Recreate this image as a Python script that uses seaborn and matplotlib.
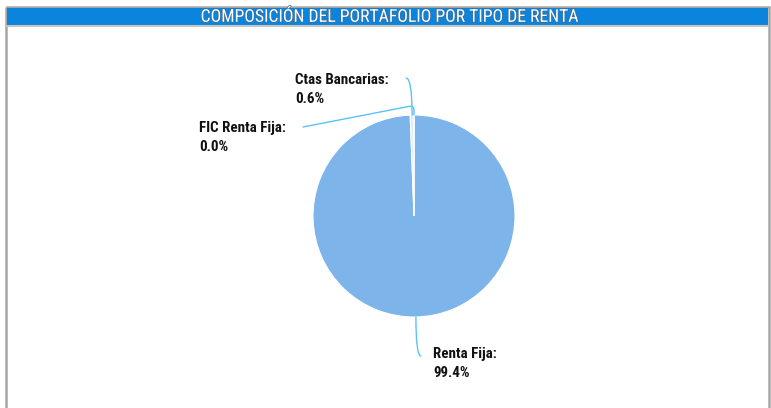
import matplotlib
matplotlib.use("Agg")
import numpy as np
import matplotlib.pyplot as plt
import seaborn as sns
from matplotlib.patches import Rectangle
import matplotlib.patheffects as pe
from matplotlib import font_manager as fm

# ---- data ----
categories = ["Renta Fija", "Ctas Bancarias", "FIC Renta Fija"]
values = [99.4, 0.6, 0.0]
value_labels = ["99.4%", "0.6%", "0.0%"]
title = "COMPOSICIÓN DEL PORTAFOLIO POR TIPO DE RENTA"

# ---- styles ----
slice_colors = ["#7db4ea", "#dcedfb", "#b8d8f5"]
leader_color = "#5cc2f5"

sns.set_theme(style="white")
plt.rcParams["font.family"] = ["DejaVu Sans"]


def find_font(cands, **kw):
    for fam in cands:
        try:
            p = fm.findfont(fm.FontProperties(family=fam, **kw), fallback_to_default=False)
            return fm.FontProperties(fname=p)
        except Exception:
            continue
    return None


label_fp = find_font(["Roboto Condensed", "Liberation Sans Narrow"], weight="bold")
if label_fp is None:
    label_fp = fm.FontProperties(family="DejaVu Sans", weight="bold")
label_fp.set_size(10.8)

title_fp = find_font(["Roboto Condensed", "Liberation Sans Narrow"])
if title_fp is None:
    title_fp = fm.FontProperties(family="DejaVu Serif")
title_fp.set_size(12.7)

W, H = 771, 408
fig = plt.figure(figsize=(W / 100, H / 100), dpi=100)
fig.patch.set_facecolor("white")

bg = fig.add_axes([0, 0, 1, 1])
bg.set_xlim(0, W)
bg.set_ylim(H, 0)
bg.axis("off")
bg.add_patch(Rectangle((6, 6.5), 762.5, 420, fill=False, ec="#a6a6a6", lw=1.8))
bg.add_patch(Rectangle((7, 8), 761, 17, color="#0a84dc", lw=0))
bg.plot([7, 768], [26, 26], color="#c4c4c4", lw=1.5)
bg.text(389, 16.8, title, ha="center", va="center", color="white",
        fontproperties=title_fp,
        path_effects=[pe.withStroke(linewidth=1.0, foreground="#3d6f99")])

cx, cy, r = 414, 216, 101
ax = fig.add_axes([(cx - r) / W, (H - cy - r) / H, 2 * r / W, 2 * r / H])
wedges, _ = ax.pie(values, colors=slice_colors, startangle=90, counterclock=False,
                   wedgeprops=dict(edgecolor="white", linewidth=0.8))
ax.set_xlim(-1, 1)
ax.set_ylim(-1, 1)
ax.set_aspect("equal")
ax.axis("off")

# layout per category: (line end offset px, connection style, text offset px)
layout = {
    "Renta Fija": ((5, -39), "angle3,angleA=0,angleB=90", (17, -30)),
    "Ctas Bancarias": ((-6, 37), "angle3,angleA=0,angleB=90", (-117, 42)),
    "FIC Renta Fija": ((-111, -12), "angle,angleA=11,angleB=90,rad=5", (-215, -6)),
}

for w, cat, lab in zip(wedges, categories, value_labels):
    ang = np.deg2rad((w.theta1 + w.theta2) / 2)
    anchor = (np.cos(ang), np.sin(ang))
    end, cs, toff = layout[cat]
    ax.annotate("", xy=anchor, xycoords="data", xytext=end, textcoords="offset pixels",
                arrowprops=dict(arrowstyle="-", color=leader_color, lw=1.0,
                                shrinkA=0, shrinkB=0, connectionstyle=cs),
                annotation_clip=False)
    ax.annotate(f"{cat}:\n{lab}", xy=anchor, xycoords="data", xytext=toff,
                textcoords="offset pixels", ha="left", va="top",
                fontproperties=label_fp, color="#111111",
                linespacing=1.45, annotation_clip=False)

fig.savefig("out.png", dpi=100)
